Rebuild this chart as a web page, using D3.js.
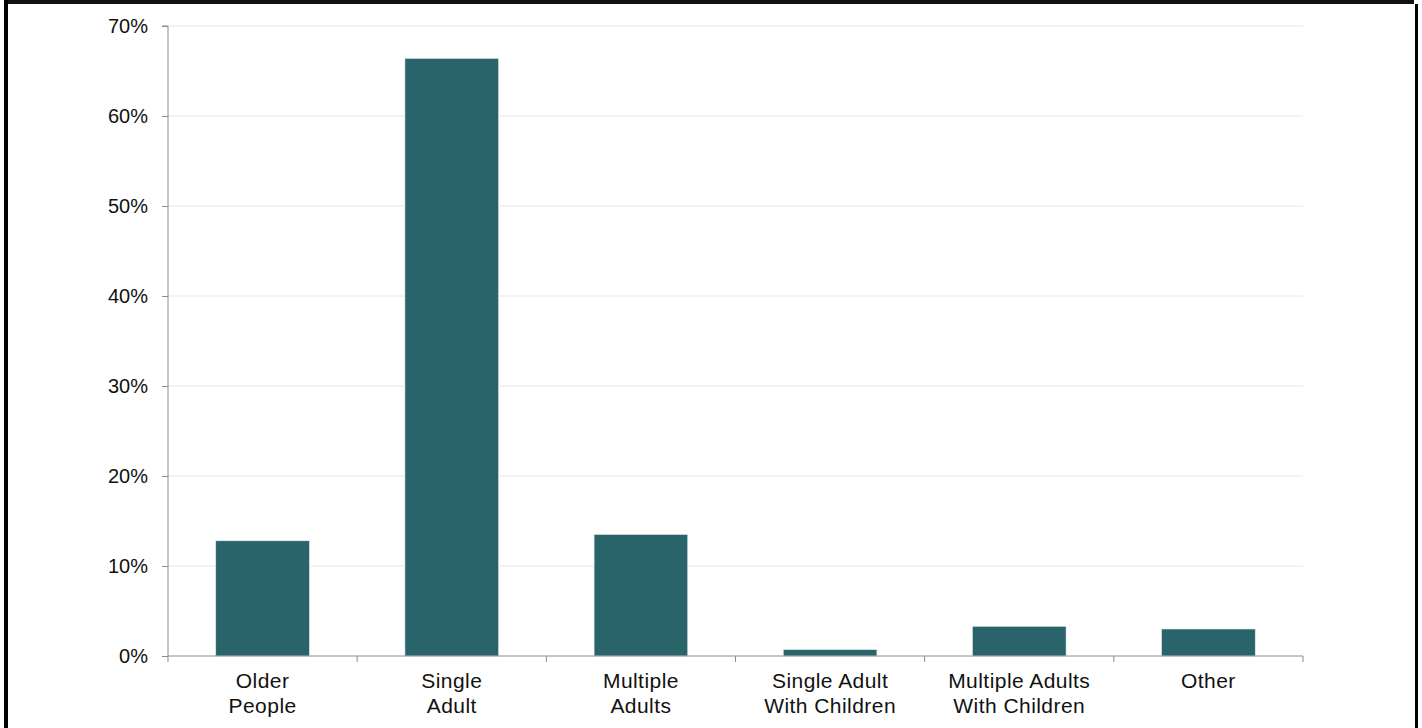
<!DOCTYPE html>
<html>
<head>
<meta charset="utf-8">
<script src="https://cdn.jsdelivr.net/npm/d3@7"></script>
<style>
  html, body { margin: 0; padding: 0; background: #fff; }
  svg { display: block; }
</style>
</head>
<body>
<svg id="chart" width="1422" height="728"></svg>
<script>
const categories = [
  ["Older", "People"],
  ["Single", "Adult"],
  ["Multiple", "Adults"],
  ["Single Adult", "With Children"],
  ["Multiple Adults", "With Children"],
  ["Other"]
];
const values = [12.8, 66.4, 13.5, 0.7, 3.3, 3.0];
const yTicks = [0, 10, 20, 30, 40, 50, 60, 70];

(function () {
const svg = d3.select("#chart");
const W = 1422, H = 728;
const mLeft = 168, mRight = 1303, mTop = 26, mBottom = 656;

// frame
svg.append("rect").attr("x", 4).attr("y", 0).attr("width", 1410).attr("height", 4).attr("fill", "#111");
svg.append("rect").attr("x", 4).attr("y", 0).attr("width", 4).attr("height", H).attr("fill", "#000");
svg.append("rect").attr("x", 1415).attr("y", 4).attr("width", 3).attr("height", H).attr("fill", "#000");

const x = d3.scaleBand().domain(d3.range(categories.length)).range([mLeft, mRight]).paddingInner(0.505).paddingOuter(0.2525);
const xb = d3.scaleBand().domain(d3.range(categories.length)).range([mLeft, mRight]);
const y = d3.scaleLinear().domain([0, 70]).range([mBottom, mTop]);

// gridlines
svg.append("g").selectAll("line").data(yTicks.filter(d => d > 0)).join("line")
  .attr("x1", mLeft).attr("x2", mRight)
  .attr("y1", d => y(d)).attr("y2", d => y(d))
  .attr("stroke", "#e6e6e6").attr("stroke-width", 1);

// bars
svg.append("g").selectAll("rect").data(values).join("rect")
  .attr("x", (d, i) => x(i))
  .attr("width", x.bandwidth())
  .attr("y", d => y(d))
  .attr("height", d => y(0) - y(d))
  .attr("fill", "#28646a")
  .attr("stroke", "#dfe9ea").attr("stroke-width", 0.6);

// y axis
const yAxis = d3.axisLeft(y).tickValues(yTicks).tickFormat(d => d + "%").tickSize(6).tickPadding(14);
const gy = svg.append("g").attr("transform", `translate(${mLeft},0)`).call(yAxis);
gy.select(".domain").attr("stroke", "#8c8c8c").attr("d", `M-6,${mTop}H0V${mBottom}`);
gy.selectAll(".tick line").attr("stroke", "#8c8c8c");
gy.selectAll(".tick text").attr("fill", "#111").style("font-family", "'Liberation Sans', Arial, sans-serif").style("font-size", "20px");

// x axis
const gx = svg.append("g").attr("transform", `translate(0,${mBottom})`);
gx.append("line").attr("x1", mLeft).attr("x2", mRight).attr("y1", 0).attr("y2", 0).attr("stroke", "#8c8c8c");
const edges = d3.range(categories.length).map(i => xb(i)).concat([mRight]);
gx.selectAll("line.tk").data(edges).join("line").attr("class", "tk")
  .attr("x1", d => d).attr("x2", d => d).attr("y1", 0).attr("y2", 6).attr("stroke", "#8c8c8c");

const lab = gx.selectAll("text").data(categories).join("text")
  .attr("text-anchor", "middle")
  .attr("fill", "#111")
  .style("font-family", "'Liberation Sans', Arial, sans-serif")
  .style("font-size", "21px")
  .style("letter-spacing", "0.45px")
  .attr("transform", (d, i) => `translate(${xb(i) + xb.bandwidth() / 2},0)`);
lab.selectAll("tspan").data(d => d).join("tspan")
  .attr("x", 0)
  .attr("y", (d, j) => 32 + j * 25)
  .text(d => d);
})();
</script>
</body>
</html>
